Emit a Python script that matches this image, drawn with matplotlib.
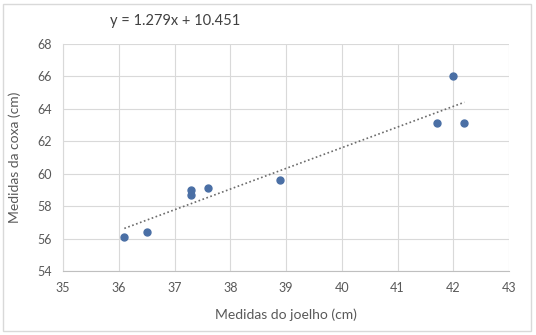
import numpy as np
import matplotlib.pyplot as plt
from matplotlib.patches import Rectangle

# dados
joelho = [36.1, 36.5, 37.3, 37.3, 37.6, 38.9, 41.7, 42.0, 42.2]
coxa = [56.1, 56.4, 59.0, 58.7, 59.1, 59.6, 63.1, 66.0, 63.15]
eq_label = "y = 1.279x + 10.451"
x_label = "Medidas do joelho (cm)"
y_label = "Medidas da coxa (cm)"
x_ticks = [35, 36, 37, 38, 39, 40, 41, 42, 43]
y_ticks = [54, 56, 58, 60, 62, 64, 66, 68]

plt.rcParams['font.family'] = ['Lato', 'DejaVu Sans']

W, H = 536, 335
fig = plt.figure(figsize=(W / 100, H / 100), dpi=100)
ax = fig.add_axes([63 / W, 1 - 271 / H, (509 - 63) / W, (271 - 44) / H])

# borda externa do gráfico
fig.patches.append(Rectangle((3 / W, 4 / H), (531 - 3) / W, (331 - 4) / H,
                             transform=fig.transFigure, fill=False,
                             edgecolor='#d9d9d9', linewidth=1))

ax.scatter(joelho, coxa, s=25, color='#4a6fa5', zorder=3)

# linha de tendência
a, b = np.polyfit(joelho, coxa, 1)
xs = np.array([min(joelho), max(joelho)])
ax.plot(xs, a * xs + b, linestyle=(0, (1, 1.5)), color='#6b6b6b', linewidth=1.2, zorder=2)

ax.set_xlim(35, 43)
ax.set_ylim(54, 68)
ax.set_xticks(x_ticks)
ax.set_yticks(y_ticks)
ax.grid(True, color='#d9d9d9', linewidth=0.8)
ax.set_axisbelow(True)
for s in ['top', 'right']:
    ax.spines[s].set_visible(False)
ax.spines['left'].set_color('#d9d9d9')
ax.spines['bottom'].set_color('#bfbfbf')
ax.tick_params(length=0, labelsize=9, labelcolor='#595959', pad=8)

ax.set_xlabel(x_label, fontsize=10, color='#595959', labelpad=10)
ax.set_ylabel(y_label, fontsize=10, color='#595959', labelpad=12)

fig.text(175 / W, 1 - 21 / H, eq_label, fontsize=10.5, color='#404040',
         ha='center', va='center')

fig.savefig('out.png', dpi=100)
